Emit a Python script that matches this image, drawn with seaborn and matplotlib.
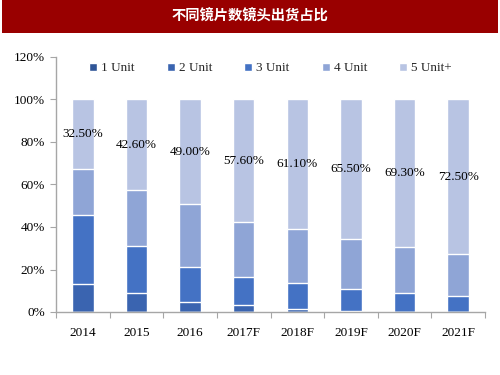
import numpy as np
import pandas as pd
import matplotlib
matplotlib.use("Agg")
import matplotlib.pyplot as plt
import seaborn as sns
from matplotlib.patches import Rectangle
from matplotlib.ticker import PercentFormatter, FixedLocator

years = ["2014", "2015", "2016", "2017F", "2018F", "2019F", "2020F", "2021F"]
series_names = ["1 Unit", "2 Unit", "3 Unit", "4 Unit", "5 Unit+"]
unit1 = [0.0, 0.0, 0.0, 0.0, 0.0, 0.0, 0.0, 0.0]
unit2 = [13.2, 9.1, 4.7, 3.3, 1.4, 0.3, 0.0, 0.0]
unit3 = [32.6, 21.8, 16.3, 13.3, 12.1, 10.7, 9.1, 7.5]
unit4 = [21.7, 26.5, 30.0, 25.8, 25.4, 23.5, 21.6, 20.0]
unit5 = [32.5, 42.6, 49.0, 57.6, 61.1, 65.5, 69.3, 72.5]
colors = ["#2f5597", "#3a64b0", "#4472c4", "#8fa5d6", "#b8c4e3"]

sns.set_theme(style="white")
plt.rcParams["font.family"] = ["Liberation Serif", "DejaVu Serif"]

fig = plt.figure(figsize=(5, 3.75), dpi=100)
fig.patches.append(Rectangle((0.004, 0.912), 0.992, 0.088, transform=fig.transFigure,
                             facecolor="#990000", edgecolor="none", zorder=0))
fig.text(0.5, 0.956, "不同镜片数镜头出货占比", color="white", ha="center", va="center",
         fontsize=10.3, fontweight="bold", family=["Noto Sans CJK SC", "DejaVu Sans"])

ax = fig.add_axes([0.112, 0.168, 0.858, 0.68])

data = [unit1, unit2, unit3, unit4, unit5]
cum = np.cumsum(np.array(data), axis=0) / 100.0
# draw from top (largest cumulative) to bottom so that the stacks overlap correctly
for i in range(len(series_names) - 1, -1, -1):
    df = pd.DataFrame({"year": years, "value": cum[i]})
    sns.barplot(data=df, x="year", y="value", color=colors[i], saturation=1,
                width=0.4, ax=ax, label=series_names[i], zorder=2)

# labels for 5 Unit+
for j, v in enumerate(unit5):
    ymid = (cum[3][j] + cum[4][j]) / 2
    ax.text(j, ymid, f"{v:.2f}%", ha="center", va="center", fontsize=9.5, color="#000000")

ax.set_ylim(0, 1.2)
ax.set_xlim(-0.5, 7.5)
ax.yaxis.set_major_locator(FixedLocator([0, 0.2, 0.4, 0.6, 0.8, 1.0, 1.2]))
ax.yaxis.set_major_formatter(PercentFormatter(1.0, decimals=0))
ax.set_xlabel("")
ax.set_ylabel("")
for s in ["top", "right"]:
    ax.spines[s].set_visible(False)
for s in ["left", "bottom"]:
    ax.spines[s].set_color("#a6a6a6")
    ax.spines[s].set_linewidth(1.0)

ax.tick_params(axis="y", which="major", left=True, length=4, width=0.8, color="#a6a6a6",
               pad=4, labelsize=9.5, labelcolor="#000000")
ax.tick_params(axis="x", which="major", bottom=False, pad=5, labelsize=9.5, labelcolor="#000000")
ax.set_xticks(np.arange(-0.5, 8.0, 1.0), minor=True)
ax.tick_params(axis="x", which="minor", bottom=True, length=4, width=0.8, color="#a6a6a6")

handles, labels = ax.get_legend_handles_labels()
order = [labels.index(n) for n in series_names]
ax.legend([handles[k] for k in order], [labels[k] for k in order], loc="upper center",
          bbox_to_anchor=(0.5, 1.025), ncol=5, frameon=False, fontsize=9.5,
          handlelength=0.6, handleheight=0.6, handletextpad=0.3, columnspacing=2.45)

fig.savefig("out.png", dpi=100)
